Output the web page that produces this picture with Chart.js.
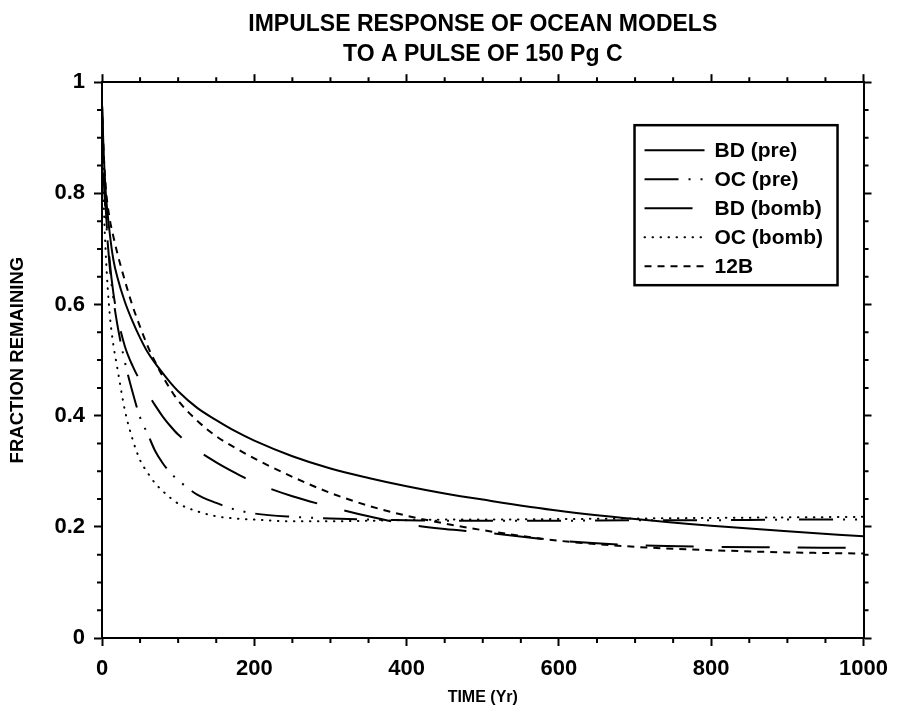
<!DOCTYPE html>
<html><head><meta charset="utf-8">
<script src="https://cdn.jsdelivr.net/npm/chart.js@4.4.1/dist/chart.umd.min.js"></script>
<style>html,body{margin:0;padding:0;background:#fff}#wrap{width:898px;height:713px}</style>
</head><body><div id="wrap"><canvas id="c" width="898" height="713"></canvas></div>
<script>
const titleLines = ['IMPULSE RESPONSE OF OCEAN MODELS', 'TO A PULSE OF 150 Pg C'];
const xTitle = 'TIME (Yr)';
const yTitle = 'FRACTION REMAINING';
const seriesLabels = ['BD (pre)', 'OC (pre)', 'BD (bomb)', 'OC (bomb)', '12B'];
const xTickValues = [0, 200, 400, 600, 800, 1000];
const yTickValues = [0, 0.2, 0.4, 0.6, 0.8, 1];
const years = [0,2,5,10,15,20,30,40,50,60,70,80,90,100,125,150,175,200,250,300,350,400,450,500,600,700,800,900,1000];
const bdPre   = [0.96,0.88,0.80,0.73,0.68,0.65,0.605,0.57,0.54,0.514,0.494,0.476,0.459,0.444,0.414,0.392,0.372,0.355,0.327,0.305,0.288,0.273,0.260,0.249,0.229,0.214,0.202,0.192,0.183];
const ocPre   = [0.96,0.84,0.76,0.67,0.61,0.565,0.497,0.443,0.397,0.367,0.336,0.314,0.297,0.284,0.258,0.243,0.231,0.224,0.218,0.215,0.213,0.212,0.211,0.211,0.211,0.212,0.212,0.213,0.213];
const bdBomb  = [0.96,0.86,0.77,0.68,0.62,0.58,0.525,0.49,0.463,0.44,0.418,0.398,0.381,0.366,0.338,0.316,0.297,0.280,0.255,0.236,0.219,0.205,0.196,0.190,0.175,0.167,0.164,0.163,0.162];
const ocBomb  = [0.96,0.80,0.69,0.585,0.527,0.487,0.41,0.358,0.32,0.297,0.278,0.264,0.252,0.242,0.228,0.219,0.215,0.213,0.210,0.210,0.211,0.212,0.213,0.213,0.214,0.215,0.216,0.217,0.218];
const twelveB = [0.96,0.88,0.81,0.755,0.722,0.693,0.643,0.598,0.56,0.525,0.496,0.47,0.447,0.427,0.391,0.363,0.342,0.323,0.29,0.261,0.238,0.220,0.206,0.194,0.175,0.164,0.158,0.154,0.152];

const seriesValues = [bdPre, ocPre, bdBomb, ocBomb, twelveB];
const dashes = [[], [34,10,2,10,2,10], [48,28], [0.5,7.5], [7,6]];
const caps = ['butt','butt','butt','round','butt'];

const FONT = '"Liberation Sans", Arial, Helvetica, sans-serif';
Chart.defaults.color = '#000';

const datasets = seriesLabels.map((lab, i) => ({
  label: lab,
  data: years.map((x, j) => ({x: x, y: seriesValues[i][j]})),
  showLine: true,
  borderColor: '#000',
  borderWidth: 2,
  borderDash: dashes[i],
  borderCapStyle: caps[i],
  pointRadius: 0,
  cubicInterpolationMode: 'monotone',
  fill: false
}));

const minorTicks = {
  id: 'minorTicks',
  afterDraw(chart) {
    const ctx = chart.ctx, a = chart.chartArea;
    const xs = chart.scales.x, ys = chart.scales.y;
    ctx.save();
    ctx.strokeStyle = '#000'; ctx.lineWidth = 2;
    ctx.beginPath();
    for (let k = 1; k < 20; k++) {
      if (k % 4 === 0) continue;
      const p = xs.getPixelForValue(k * 50);
      ctx.moveTo(p, a.bottom); ctx.lineTo(p, a.bottom + 5);
      ctx.moveTo(p, a.top); ctx.lineTo(p, a.top - 5);
    }
    for (let k = 1; k < 20; k++) {
      if (k % 4 === 0) continue;
      const p = ys.getPixelForValue(k * 0.05);
      ctx.moveTo(a.left, p); ctx.lineTo(a.left - 5, p);
      ctx.moveTo(a.right, p); ctx.lineTo(a.right + 5, p);
    }
    ctx.stroke();
    ctx.restore();
  }
};

const legendBox = {
  id: 'legendBox',
  afterDatasetsDraw(chart) {
    const ctx = chart.ctx, a = chart.chartArea;
    const L = a.right - 229, T = a.top + 43, W = 203, H = 160;
    ctx.save();
    ctx.fillStyle = '#fff';
    ctx.fillRect(L, T, W, H);
    ctx.strokeStyle = '#000'; ctx.lineWidth = 2.5;
    ctx.strokeRect(L, T, W, H);
    chart.data.datasets.forEach((ds, i) => {
      const y = T + 25 + i * 29;
      ctx.lineWidth = ds.borderWidth;
      ctx.setLineDash(ds.borderDash);
      ctx.lineCap = ds.borderCapStyle;
      ctx.beginPath(); ctx.moveTo(L + 10, y); ctx.lineTo(L + 70, y); ctx.stroke();
      ctx.setLineDash([]);
      ctx.lineCap = 'butt';
      ctx.fillStyle = '#000';
      ctx.font = 'bold 21px ' + FONT;
      ctx.textBaseline = 'middle'; ctx.textAlign = 'left';
      ctx.fillText(ds.label, L + 80, y + 1);
    });
    ctx.restore();
  }
};

const axisCommon = {
  grid: { drawOnChartArea: false, drawTicks: true, tickLength: 8, tickColor: '#000', tickWidth: 2 },
  border: { display: true, color: '#000', width: 2 }
};

new Chart(document.getElementById('c'), {
  type: 'scatter',
  data: { datasets },
  options: {
    responsive: false,
    animation: false,
    devicePixelRatio: 1,
    layout: { padding: 0 },
    plugins: {
      legend: { display: false },
      tooltip: { enabled: false },
      title: {
        display: true,
        fullSize: false,
        text: titleLines,
        color: '#000',
        font: { family: FONT, size: 23, weight: 'bold', lineHeight: 1.33 },
        padding: { top: 9, bottom: 0 }
      }
    },
    scales: {
      x: Object.assign({}, axisCommon, {
        type: 'linear', position: 'bottom', min: 0, max: 1000,
        afterBuildTicks: s => { s.ticks = xTickValues.map(v => ({value: v})); },
        ticks: { font: { family: FONT, size: 22, weight: 'bold' }, color: '#000', padding: 10, maxRotation: 0,
                 callback: v => String(v) },
        title: { display: true, text: xTitle, color: '#000', font: { family: FONT, size: 16, weight: 'bold' }, padding: { top: 4, bottom: 6 } },
        afterFit: s => { s.height = 75; }
      }),
      x2: Object.assign({}, axisCommon, {
        type: 'linear', position: 'top', min: 0, max: 1000,
        afterBuildTicks: s => { s.ticks = xTickValues.map(v => ({value: v})); },
        ticks: { display: false },
        afterFit: s => { s.height = 12; }
      }),
      y: Object.assign({}, axisCommon, {
        type: 'linear', position: 'left', min: 0, max: 1,
        afterBuildTicks: s => { s.ticks = yTickValues.map(v => ({value: v})); },
        ticks: { font: { family: FONT, size: 22, weight: 'bold' }, color: '#000', padding: 9,
                 callback: v => (v === 0 || v === 1) ? String(v) : v.toFixed(1) },
        title: { display: true, text: yTitle, color: '#000', font: { family: FONT, size: 18.5, weight: 'bold' }, padding: { top: 7, bottom: 0 } },
        afterFit: s => { s.width = 102; }
      }),
      y2: Object.assign({}, axisCommon, {
        type: 'linear', position: 'right', min: 0, max: 1,
        afterBuildTicks: s => { s.ticks = yTickValues.map(v => ({value: v})); },
        ticks: { display: false },
        afterFit: s => { s.width = 29; }
      })
    }
  },
  plugins: [minorTicks, legendBox]
});
</script>
</body></html>
